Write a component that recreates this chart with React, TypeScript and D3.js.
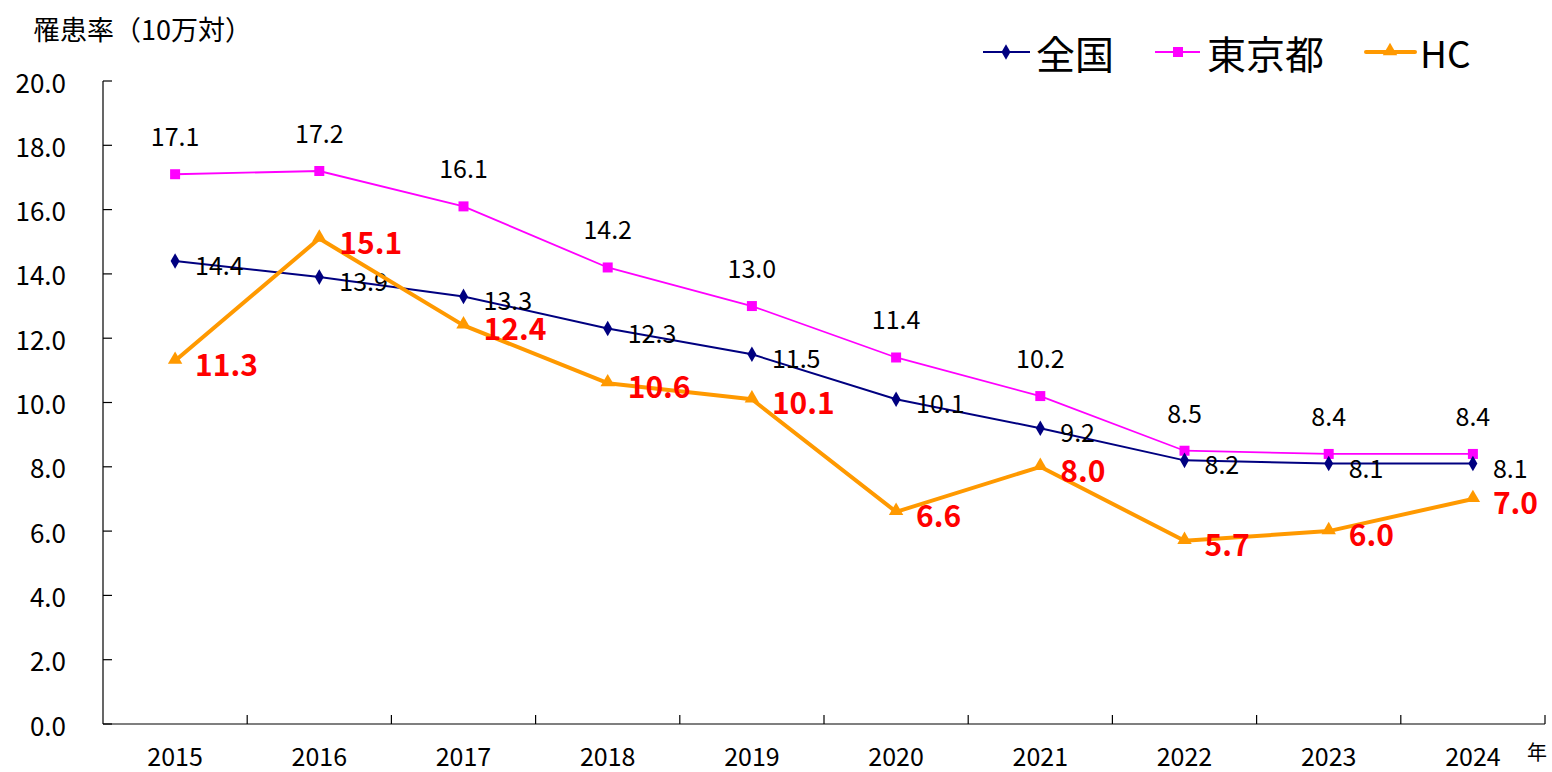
import React from "react";
import * as d3 from "d3";

const years = ["2015", "2016", "2017", "2018", "2019", "2020", "2021", "2022", "2023", "2024"];
const zenkoku = [14.4, 13.9, 13.3, 12.3, 11.5, 10.1, 9.2, 8.2, 8.1, 8.1];
const tokyo = [17.1, 17.2, 16.1, 14.2, 13.0, 11.4, 10.2, 8.5, 8.4, 8.4];
const hc = [11.3, 15.1, 12.4, 10.6, 10.1, 6.6, 8.0, 5.7, 6.0, 7.0];
const yTicks = [0, 2, 4, 6, 8, 10, 12, 14, 16, 18, 20];

const W = 1552;
const H = 772;
const FONT = "'Noto Sans CJK JP', 'Noto Sans', sans-serif";

const App = () => {
  const left = 103;
  const right = 1545;
  const top = 81;
  const bottom = 724;

  const x = d3.scaleBand().domain(years).range([left, right]);
  const y = d3.scaleLinear().domain([0, 20]).range([bottom, top]);
  const cx = (yr: string) => (x(yr) as number) + x.bandwidth() / 2;

  const line = (vals: number[]) =>
    d3
      .line<number>()
      .x((d, i) => cx(years[i]))
      .y((d) => y(d))(vals) as string;

  const diamond = d3.symbol().type(d3.symbolDiamond).size(70)() as string;
  const square = d3.symbol().type(d3.symbolSquare).size(100)() as string;
  const triangle = d3.symbol().type(d3.symbolTriangle).size(90)() as string;

  const navy = "#000080";
  const magenta = "#FF00FF";
  const orange = "#FF9900";

  return (
    <svg width={W} height={H} style={{ position: "absolute", left: 0, top: 0, background: "#fff" }}>
      {/* axis title */}
      <text x={33} y={28} dominantBaseline="central" fontFamily={FONT} fontSize={27} fill="#000">
        罹患率（10万対）
      </text>

      {/* y axis */}
      <line x1={left} x2={left} y1={top} y2={bottom} stroke="#000" strokeWidth={1.2} />
      {yTicks.map((t) => (
        <g key={t}>
          <line x1={left} x2={left + 9} y1={y(t)} y2={y(t)} stroke="#000" strokeWidth={1.2} />
          <text
            x={66}
            y={y(t)}
            textAnchor="end"
            dominantBaseline="central"
            fontFamily={FONT}
            fontSize={26}
            fill="#000"
          >
            {t.toFixed(1)}
          </text>
        </g>
      ))}

      {/* x axis */}
      <line x1={left} x2={right} y1={bottom} y2={bottom} stroke="#000" strokeWidth={1.2} />
      {years.map((yr) => (
        <g key={yr}>
          <line
            x1={(x(yr) as number) + x.bandwidth()}
            x2={(x(yr) as number) + x.bandwidth()}
            y1={bottom}
            y2={bottom - 9}
            stroke="#000"
            strokeWidth={1.2}
          />
          <text
            x={cx(yr)}
            y={755}
            textAnchor="middle"
            dominantBaseline="central"
            fontFamily={FONT}
            fontSize={25}
            fill="#000"
          >
            {yr}
          </text>
        </g>
      ))}
      <text x={1537} y={751} textAnchor="middle" dominantBaseline="central" fontFamily={FONT} fontSize={20} fill="#000">
        年
      </text>

      {/* 東京都 */}
      <path d={line(tokyo)} fill="none" stroke={magenta} strokeWidth={1.8} />
      {tokyo.map((v, i) => (
        <g key={i}>
          <path d={square} transform={`translate(${cx(years[i])},${y(v)})`} fill={magenta} />
          <text
            x={cx(years[i])}
            y={y(v) - 39}
            textAnchor="middle"
            dominantBaseline="central"
            fontFamily={FONT}
            fontSize={25}
            fill="#000"
          >
            {v.toFixed(1)}
          </text>
        </g>
      ))}

      {/* 全国 */}
      <path d={line(zenkoku)} fill="none" stroke={navy} strokeWidth={2} />
      {zenkoku.map((v, i) => (
        <g key={i}>
          <path d={diamond} transform={`translate(${cx(years[i])},${y(v)})`} fill={navy} />
          <text
            x={cx(years[i]) + 20}
            y={y(v) + 3}
            dominantBaseline="central"
            fontFamily={FONT}
            fontSize={25}
            fill="#000"
          >
            {v.toFixed(1)}
          </text>
        </g>
      ))}

      {/* HC */}
      <path d={line(hc)} fill="none" stroke={orange} strokeWidth={4} strokeLinejoin="round" />
      {hc.map((v, i) => (
        <g key={i}>
          <path d={triangle} transform={`translate(${cx(years[i])},${y(v) - 1})`} fill={orange} />
          <text
            x={cx(years[i]) + 20}
            y={y(v) + 2}
            dominantBaseline="central"
            fontFamily={FONT}
            fontSize={30}
            fontWeight="bold"
            fill="#FF0000"
          >
            {v.toFixed(1)}
          </text>
        </g>
      ))}

      {/* legend */}
      <g>
        <line x1={983} x2={1030} y1={52} y2={52} stroke={navy} strokeWidth={2} />
        <path d={diamond} transform="translate(1006,52)" fill={navy} />
        <text x={1036} y={52} dominantBaseline="central" fontFamily={FONT} fontSize={39} fill="#000">
          全国
        </text>
        <line x1={1155} x2={1200} y1={52} y2={52} stroke={magenta} strokeWidth={1.8} />
        <path d={square} transform="translate(1178,52)" fill={magenta} />
        <text x={1207} y={52} dominantBaseline="central" fontFamily={FONT} fontSize={39} fill="#000">
          東京都
        </text>
        <line x1={1366} x2={1415} y1={52} y2={52} stroke={orange} strokeWidth={4} strokeLinecap="round" />
        <path d={triangle} transform="translate(1390,51)" fill={orange} />
        <text x={1420} y={52} dominantBaseline="central" fontFamily={FONT} fontSize={37} fill="#000">
          HC
        </text>
      </g>
    </svg>
  );
};

export default App;
